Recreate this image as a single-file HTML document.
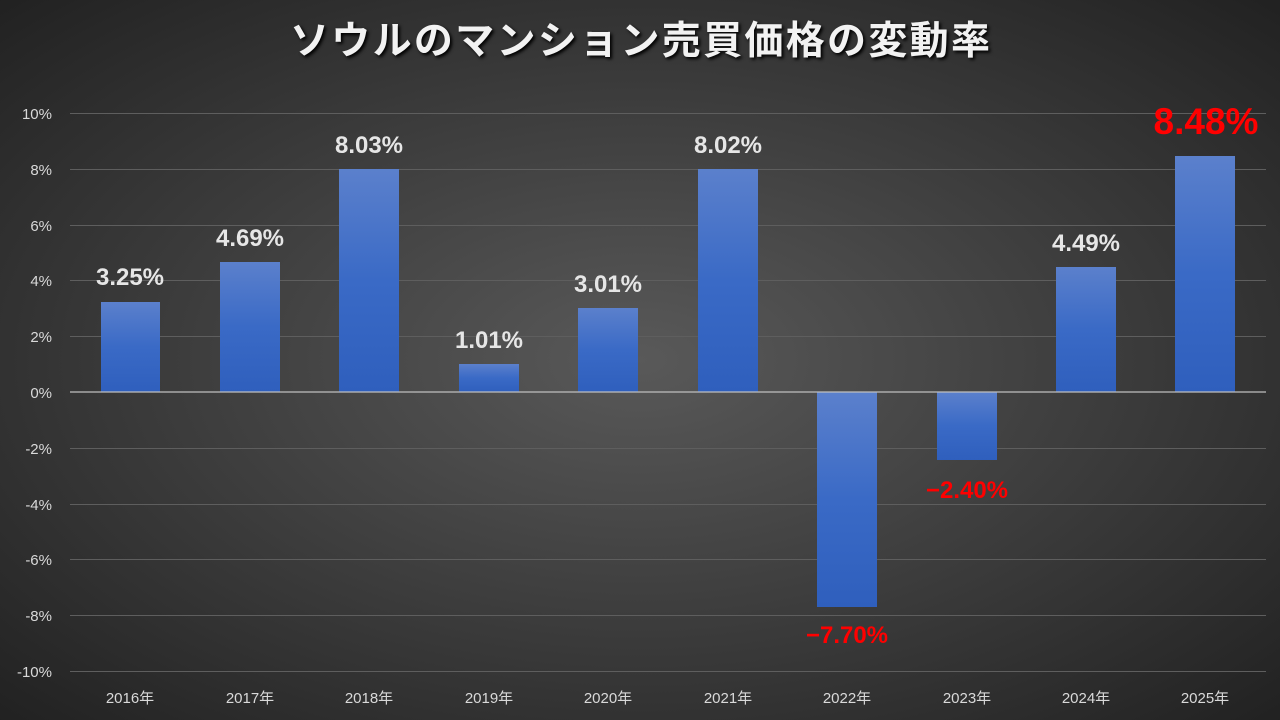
<!DOCTYPE html>
<html><head><meta charset="utf-8"><style>
html,body{margin:0;padding:0;width:1280px;height:720px;overflow:hidden;background:#333}
svg{display:block}
text{font-family:"Liberation Sans","Noto Sans CJK JP",sans-serif}
</style></head><body>
<svg width="1280" height="720" viewBox="0 0 1280 720" xmlns="http://www.w3.org/2000/svg">
<defs>
<radialGradient id="bg" cx="0.5" cy="0.5" r="0.75">
<stop offset="0" stop-color="#595959"/><stop offset="1" stop-color="#1e1e1e"/>
</radialGradient>
<linearGradient id="bar" x1="0" y1="0" x2="0" y2="1">
<stop offset="0" stop-color="#5b80cc"/><stop offset="0.5" stop-color="#3a6ac6"/><stop offset="1" stop-color="#2f5fbd"/>
</linearGradient>
</defs>
<rect width="1280" height="720" fill="url(#bg)"/>
<text x="290" y="54" textLength="700" lengthAdjust="spacing" font-size="39" font-weight="bold" fill="#f2f2f2" style="text-shadow:2px 2px 3px #000">ソウルのマンション売買価格の変動率</text>
<g stroke="#5e5e5e" stroke-width="1">
<line x1="70" y1="113.5" x2="1266" y2="113.5"/><line x1="70" y1="169.5" x2="1266" y2="169.5"/>
<line x1="70" y1="225.5" x2="1266" y2="225.5"/><line x1="70" y1="280.5" x2="1266" y2="280.5"/>
<line x1="70" y1="336.5" x2="1266" y2="336.5"/><line x1="70" y1="448.5" x2="1266" y2="448.5"/>
<line x1="70" y1="504.5" x2="1266" y2="504.5"/><line x1="70" y1="559.5" x2="1266" y2="559.5"/>
<line x1="70" y1="615.5" x2="1266" y2="615.5"/><line x1="70" y1="671.5" x2="1266" y2="671.5"/>
</g>
<g font-size="15" fill="#d9d9d9" text-anchor="end">
<text x="52" y="119">10%</text><text x="52" y="175">8%</text><text x="52" y="231">6%</text>
<text x="52" y="286">4%</text><text x="52" y="342">2%</text><text x="52" y="398">0%</text>
<text x="52" y="454">-2%</text><text x="52" y="510">-4%</text><text x="52" y="565">-6%</text>
<text x="52" y="621">-8%</text><text x="52" y="677">-10%</text>
</g>
<g fill="url(#bar)">
<rect x="101" y="302" width="59" height="90"/>
<rect x="220" y="262" width="60" height="130"/>
<rect x="339" y="169" width="60" height="223"/>
<rect x="459" y="364" width="60" height="28"/>
<rect x="578" y="308" width="60" height="84"/>
<rect x="698" y="169" width="60" height="223"/>
<rect x="817" y="392" width="60" height="215"/>
<rect x="937" y="392" width="60" height="68"/>
<rect x="1056" y="267" width="60" height="125"/>
<rect x="1175" y="156" width="60" height="236"/>
</g>
<line x1="70" y1="392" x2="1266" y2="392" stroke="#bfbfbf" stroke-width="1.2"/>
<g font-size="24" font-weight="bold" fill="#e6e6e6" text-anchor="middle">
<text x="130" y="285">3.25%</text><text x="250" y="246">4.69%</text><text x="369" y="153">8.03%</text>
<text x="489" y="348">1.01%</text><text x="608" y="292">3.01%</text><text x="728" y="153">8.02%</text>
<text x="1086" y="251">4.49%</text>
</g>
<g font-weight="bold" fill="#ff0000" text-anchor="middle">
<text x="847" y="643" font-size="24">−7.70%</text>
<text x="967" y="498" font-size="24">−2.40%</text>
<text x="1206" y="134" font-size="37">8.48%</text>
</g>
<g font-size="15" fill="#d9d9d9" text-anchor="middle">
<text x="130" y="703">2016年</text><text x="250" y="703">2017年</text><text x="369" y="703">2018年</text>
<text x="489" y="703">2019年</text><text x="608" y="703">2020年</text><text x="728" y="703">2021年</text>
<text x="847" y="703">2022年</text><text x="967" y="703">2023年</text><text x="1086" y="703">2024年</text>
<text x="1205" y="703">2025年</text>
</g>
</svg>
</body></html>
